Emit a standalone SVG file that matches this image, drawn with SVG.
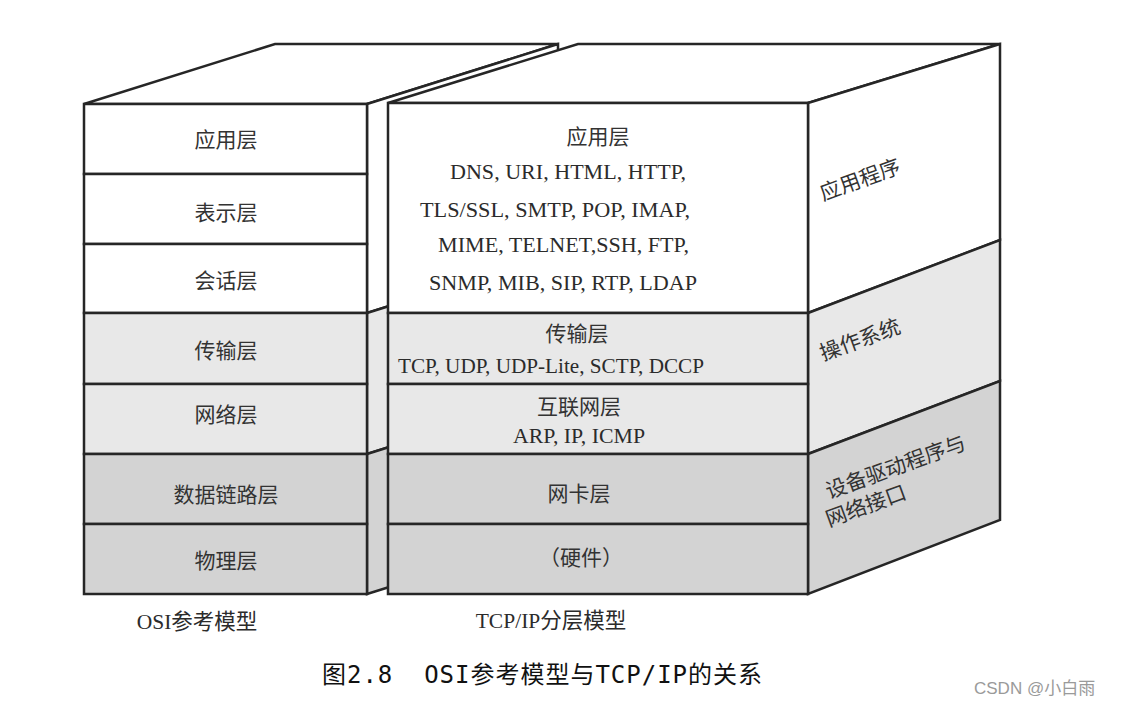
<svg xmlns="http://www.w3.org/2000/svg" width="1123" height="705" viewBox="0 0 1123 705">
<style>
.ln{stroke:#262626;stroke-width:2.5;stroke-linejoin:miter;}
.w{fill:#ffffff;}
.l{fill:#e8e8e8;}
.d{fill:#d3d3d3;}
.cj{font-family:"Noto Sans CJK SC","Noto Sans",sans-serif;font-size:21px;fill:#333;}
.lt{font-family:"Liberation Serif","Noto Sans CJK SC",serif;font-size:21.5px;fill:#2b2b2b;}
.c{text-anchor:middle;}
</style>
<rect width="1123" height="705" fill="#ffffff"/>

<g id="osi-model">
  <polygon class="ln w" points="84,104 275,44 558,44 367,104"/>
  <polygon class="ln w" points="367,104 558,44 558,253 367,313"/>
  <polygon class="ln l" points="367,313 558,253 558,394 367,454"/>
  <polygon class="ln d" points="367,454 558,394 558,534 367,594"/>
  <g id="osi-application"><rect class="ln w" x="84" y="104" width="283" height="70"/><text class="cj c" x="226" y="147">应用层</text></g>
  <g id="osi-presentation"><rect class="ln w" x="84" y="174" width="283" height="70"/><text class="cj c" x="226" y="220">表示层</text></g>
  <g id="osi-session"><rect class="ln w" x="84" y="244" width="283" height="69"/><text class="cj c" x="226" y="288">会话层</text></g>
  <g id="osi-transport"><rect class="ln l" x="84" y="313" width="283" height="71"/><text class="cj c" x="226" y="358">传输层</text></g>
  <g id="osi-network"><rect class="ln l" x="84" y="384" width="283" height="70"/><text class="cj c" x="226" y="422">网络层</text></g>
  <g id="osi-datalink"><rect class="ln d" x="84" y="454" width="283" height="70"/><text class="cj c" x="226" y="502">数据链路层</text></g>
  <g id="osi-physical"><rect class="ln d" x="84" y="524" width="283" height="70"/><text class="cj c" x="226" y="568">物理层</text></g>
  <text class="lt c" x="197" y="629">OSI参考模型</text>
</g>

<g id="tcpip-model">
  <polygon class="ln w" points="388,103 578,44 1000,44 808,103"/>
  <g id="side-application"><polygon class="ln w" points="808,103 1000,44 1000,240 808,313"/>
    <text class="cj" x="823" y="201" transform="rotate(-20 823 201)">应用程序</text></g>
  <g id="side-os"><polygon class="ln l" points="808,313 1000,240 1000,381 808,454"/>
    <text class="cj" x="823" y="361" transform="rotate(-20 823 361)">操作系统</text></g>
  <g id="side-driver"><polygon class="ln d" points="808,454 1000,381 1000,520 808,594"/>
    <text class="cj" x="829" y="499" transform="rotate(-20 829 499)">设备驱动程序与</text>
    <text class="cj" x="829" y="527" transform="rotate(-20 829 527)">网络接口</text></g>
  <g id="tcp-application"><rect class="ln w" x="388" y="103" width="420" height="210"/>
    <text class="cj c" x="598" y="144">应用层</text>
    <text class="lt" x="450" y="179" textLength="236" lengthAdjust="spacingAndGlyphs">DNS, URI, HTML, HTTP,</text>
    <text class="lt" x="420" y="217" textLength="270" lengthAdjust="spacingAndGlyphs">TLS/SSL, SMTP, POP, IMAP,</text>
    <text class="lt" x="438" y="252" textLength="251" lengthAdjust="spacingAndGlyphs">MIME, TELNET,SSH, FTP,</text>
    <text class="lt" x="429" y="290" textLength="268" lengthAdjust="spacingAndGlyphs">SNMP, MIB, SIP, RTP, LDAP</text></g>
  <g id="tcp-transport"><rect class="ln l" x="388" y="313" width="420" height="71"/>
    <text class="cj c" x="577" y="341">传输层</text>
    <text class="lt" x="398" y="373" textLength="306" lengthAdjust="spacingAndGlyphs">TCP, UDP, UDP-Lite, SCTP, DCCP</text></g>
  <g id="tcp-internet"><rect class="ln l" x="388" y="384" width="420" height="70"/>
    <text class="cj c" x="579" y="414">互联网层</text>
    <text class="lt" x="513" y="443" textLength="132" lengthAdjust="spacingAndGlyphs">ARP, IP, ICMP</text></g>
  <g id="tcp-nic"><rect class="ln d" x="388" y="454" width="420" height="70"/>
    <text class="cj c" x="579" y="501">网卡层</text></g>
  <g id="tcp-hardware"><rect class="ln d" x="388" y="524" width="420" height="70"/>
    <text class="cj c" x="581" y="565">（硬件）</text></g>
  <text class="lt c" x="551" y="628">TCP/IP分层模型</text>
</g>

<g id="connectors"></g>

<text x="322" y="683" xml:space="preserve" textLength="440" lengthAdjust="spacing" style="font-family:'DejaVu Sans Mono','Noto Sans CJK SC',monospace;font-size:24px;fill:#111;">图2.8  OSI参考模型与TCP/IP的关系</text>
<text x="974" y="694" style="font-family:'Liberation Sans','Noto Sans CJK SC',sans-serif;font-size:17px;fill:#9a9a9a;">CSDN @小白雨</text>
</svg>
